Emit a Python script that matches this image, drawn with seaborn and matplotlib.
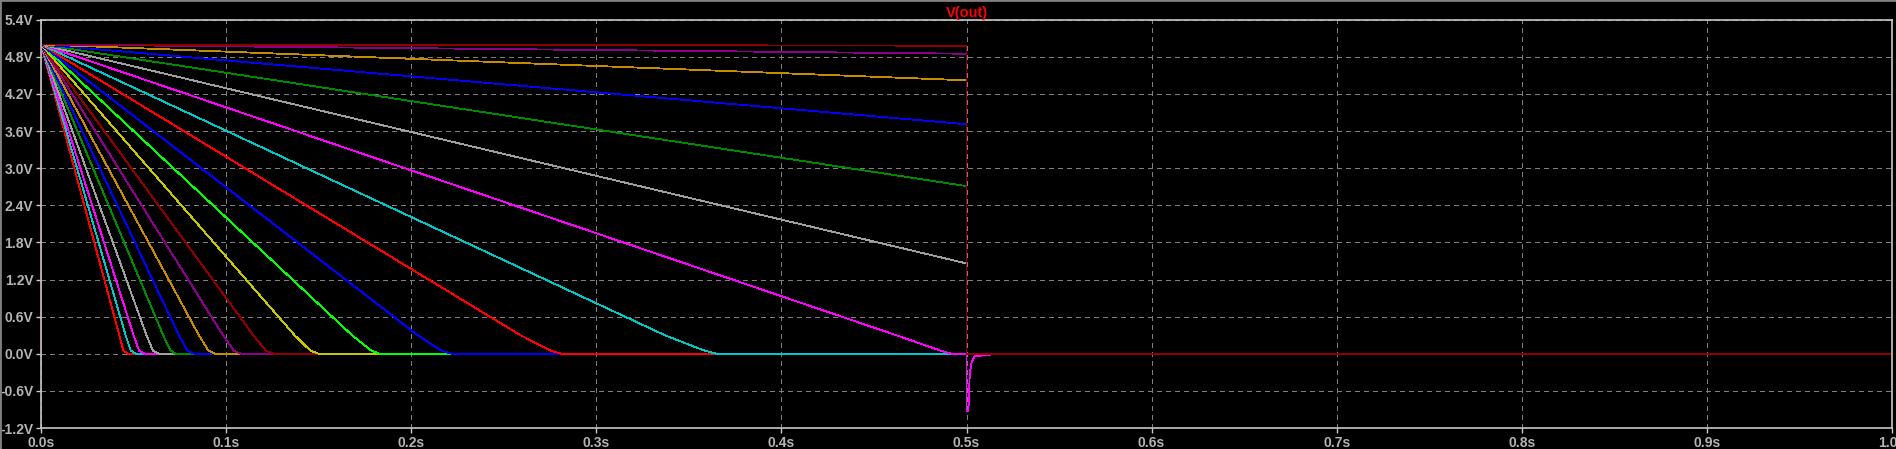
import matplotlib

matplotlib.use("Agg")
import matplotlib.pyplot as plt
from matplotlib.lines import Line2D
import pandas as pd
import seaborn as sns

# Sweep steps that discharge to 0 V before the load switches off (fastest first)
drain_colors = [
    "#ff0000", "#00c8c8", "#ff00ff", "#a0a0a0", "#008c00",
    "#0000ff", "#c88c00", "#8c008c", "#900000", "#c8c800",
    "#00ff00", "#0000ff", "#ff0000", "#00c8c8", "#ff00ff",
]
drain_knee_t = [0.0423, 0.0457, 0.0500, 0.0570, 0.0660, 0.0745, 0.0853, 0.0983,
                0.1147, 0.1370, 0.1680, 0.2035, 0.2590, 0.3370, 0.4620]  # at 0.3 V
drain_low_t = [0.0445, 0.0485, 0.0530, 0.0605, 0.0700, 0.0790, 0.0905, 0.1042,
               0.1215, 0.1455, 0.1785, 0.2163, 0.2755, 0.3585, 0.4860]  # at 0.05 V
drain_flat_t = [0.0470, 0.0510, 0.0560, 0.0640, 0.0730, 0.0830, 0.0940, 0.1080,
                0.1260, 0.1500, 0.1830, 0.2220, 0.2810, 0.3650, 0.4920]  # settled at 0 V

# Sweep steps still holding charge at 0.5 s
hold_colors = ["#a0a0a0", "#008c00", "#0000ff", "#c88c00", "#8c008c", "#900000"]
hold_end_v = [1.46, 2.71, 3.71, 4.42, 4.85, 4.98]

v_start = 5.0
t_switch = 0.5
t_stop_step = 0.514
t_stop_last = 1.0

# negative kick at switch-off for the discharged steps
spike_t = [0.5, 0.5010, 0.5018, 0.5028, 0.5045, 0.514]
spike_v = [-0.92, -0.93, -0.30, -0.14, -0.04, -0.01]

y_ticks = [-1.2, -0.6, 0.0, 0.6, 1.2, 1.8, 2.4, 3.0, 3.6, 4.2, 4.8, 5.4]
y_tick_labels = ["-1.2V", "-0.6V", "0.0V", "0.6V", "1.2V", "1.8V", "2.4V",
                 "3.0V", "3.6V", "4.2V", "4.8V", "5.4V"]
x_ticks = [0.0, 0.1, 0.2, 0.3, 0.4, 0.5, 0.6, 0.7, 0.8, 0.9, 1.0]
x_tick_labels = ["0.0s", "0.1s", "0.2s", "0.3s", "0.4s", "0.5s", "0.6s",
                 "0.7s", "0.8s", "0.9s", "1.0s"]

# Build long table, one group per step
rows = []
palette = {}
n = 0
for c, tk, tl, tf in zip(drain_colors, drain_knee_t, drain_low_t, drain_flat_t):
    name = f"step{n:02d}"
    palette[name] = c
    ts = [0.0, 0.0, tk, tl, tf, t_switch] + spike_t
    vs = [0.0, v_start, 0.3, 0.05, 0.0, 0.0] + spike_v
    rows += [(name, t, v) for t, v in zip(ts, vs)]
    n += 1
for i, (c, ve) in enumerate(zip(hold_colors, hold_end_v)):
    name = f"step{n:02d}"
    palette[name] = c
    t_end = t_stop_last if i == len(hold_colors) - 1 else t_stop_step
    ts = [0.0, 0.0, t_switch, t_switch, t_end]
    vs = [0.0, v_start, ve, 0.0, 0.0]
    rows += [(name, t, v) for t, v in zip(ts, vs)]
    n += 1

df = pd.DataFrame(rows, columns=["step", "t", "v"])

sns.set_style("dark")
plt.rcParams["font.family"] = ["Liberation Sans", "DejaVu Sans"]

fig, ax = plt.subplots(figsize=(18.96, 4.49), dpi=100)
fig.patch.set_facecolor("black")
ax.set_facecolor("black")
fig.subplots_adjust(left=41 / 1896, right=1892 / 1896,
                    bottom=1 - 428 / 449, top=1 - 19.7 / 449)

sns.lineplot(
    data=df, x="t", y="v", hue="step", hue_order=list(palette.keys()),
    palette=palette, estimator=None, sort=False, legend=False,
    linewidth=0.6, antialiased=False, ax=ax,
)

ax.set_xlim(0, 1.0)
ax.set_ylim(-1.2, 5.4)
ax.set_xticks(x_ticks)
ax.set_xticklabels(x_tick_labels)
ax.set_yticks(y_ticks)
ax.set_yticklabels(y_tick_labels)
ax.set_xlabel("")
ax.set_ylabel("")

ax.grid(True, color="#808080", linestyle=(0, (5, 5)), linewidth=0.6,
        antialiased=False)
ax.set_axisbelow(True)
for s in ax.spines.values():
    s.set_visible(True)
    s.set_color("#c8c8c8")
    s.set_linewidth(1.2)

ax.tick_params(axis="both", which="major", direction="out", length=3.5,
               width=1, color="#c8c8c8", labelcolor="#b4b4b4", labelsize=10,
               bottom=True, left=True)
ax.tick_params(axis="x", pad=2.5)
ax.tick_params(axis="y", pad=2)
for lab in ax.get_xticklabels() + ax.get_yticklabels():
    lab.set_fontweight("bold")

ax.set_title("V(out)", color="#ff0000", fontsize=10.5, fontweight="bold", pad=2)

# window frame edge on top and left
fig.add_artist(Line2D([0, 1], [1, 1], transform=fig.transFigure,
                      color="#808080", linewidth=2))
fig.add_artist(Line2D([0, 0], [0, 1], transform=fig.transFigure,
                      color="#808080", linewidth=2))

fig.savefig("out.png", dpi=100, facecolor="black")
